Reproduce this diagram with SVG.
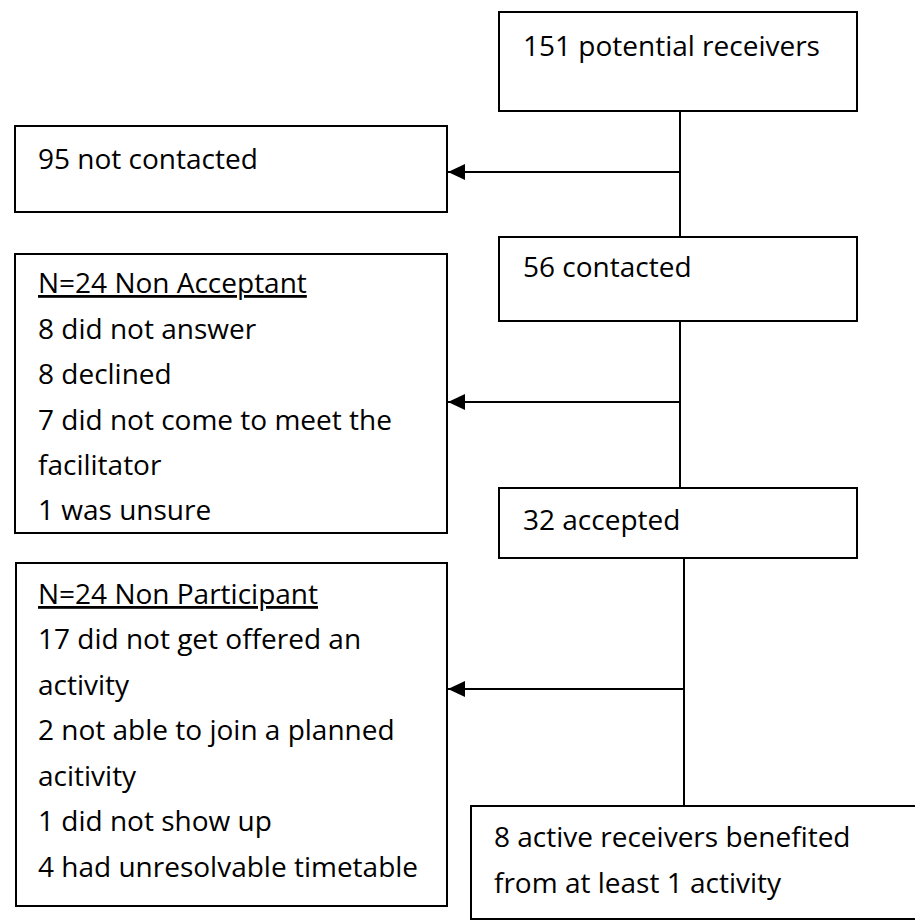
<svg xmlns="http://www.w3.org/2000/svg" width="915" height="921" viewBox="0 0 915 921">
<defs>
<style>
.box{fill:#fff;stroke:#000;stroke-width:2}
.t{font-family:"Open Sans","Noto Sans",sans-serif;font-size:28px;fill:#000}
.u{text-decoration:underline}
.c{fill:none;stroke:#000;stroke-width:2}
</style>
<marker id="arr" viewBox="0 0 17 16" refX="17" refY="8" markerWidth="17" markerHeight="16" markerUnits="userSpaceOnUse" orient="auto">
<path d="M0,0 L17,8 L0,16 Z" fill="#000"/>
</marker>
</defs>
<rect width="915" height="921" fill="#fff"/>
<g id="connectors">
<path class="c" d="M680,111 V237"/>
<path class="c" d="M680,172 H448" marker-end="url(#arr)"/>
<path class="c" d="M680,321 V488"/>
<path class="c" d="M680,402 H448" marker-end="url(#arr)"/>
<path class="c" d="M684,558 V806"/>
<path class="c" d="M684,689 H448" marker-end="url(#arr)"/>
</g>
<g id="potential">
<rect class="box" x="499" y="12" width="358" height="99"/>
<text class="t" x="523" y="56">151 potential receivers</text>
</g>
<g id="not-contacted">
<rect class="box" x="15" y="126" width="432" height="86"/>
<text class="t" x="38" y="169">95 not contacted</text>
</g>
<g id="contacted">
<rect class="box" x="499" y="237" width="358" height="84"/>
<text class="t" x="523" y="277">56 contacted</text>
</g>
<g id="non-acceptant">
<rect class="box" x="15" y="254" width="432" height="279"/>
<text class="t" x="38"><tspan class="u" x="38" y="293">N=24 Non Acceptant</tspan><tspan x="38" y="339">8 did not answer</tspan><tspan x="38" y="384">8 declined</tspan><tspan x="38" y="430">7 did not come to meet the</tspan><tspan x="38" y="475">facilitator</tspan><tspan x="38" y="520">1 was unsure</tspan></text>
</g>
<g id="accepted">
<rect class="box" x="499" y="488" width="358" height="70"/>
<text class="t" x="523" y="530">32 accepted</text>
</g>
<g id="non-participant">
<rect class="box" x="16" y="563" width="431" height="343"/>
<text class="t" x="38"><tspan class="u" x="38" y="604">N=24 Non Participant</tspan><tspan x="38" y="649">17 did not get offered an</tspan><tspan x="38" y="695">activity</tspan><tspan x="38" y="740">2 not able to join a planned</tspan><tspan x="38" y="786">acitivity</tspan><tspan x="38" y="831">1 did not show up</tspan><tspan x="38" y="877">4 had unresolvable timetable</tspan></text>
</g>
<g id="active">
<rect class="box" x="471" y="806" width="460" height="113"/>
<text class="t" x="494"><tspan x="494" y="847">8 active receivers benefited</tspan><tspan x="494" y="893">from at least 1 activity</tspan></text>
</g>
</svg>
